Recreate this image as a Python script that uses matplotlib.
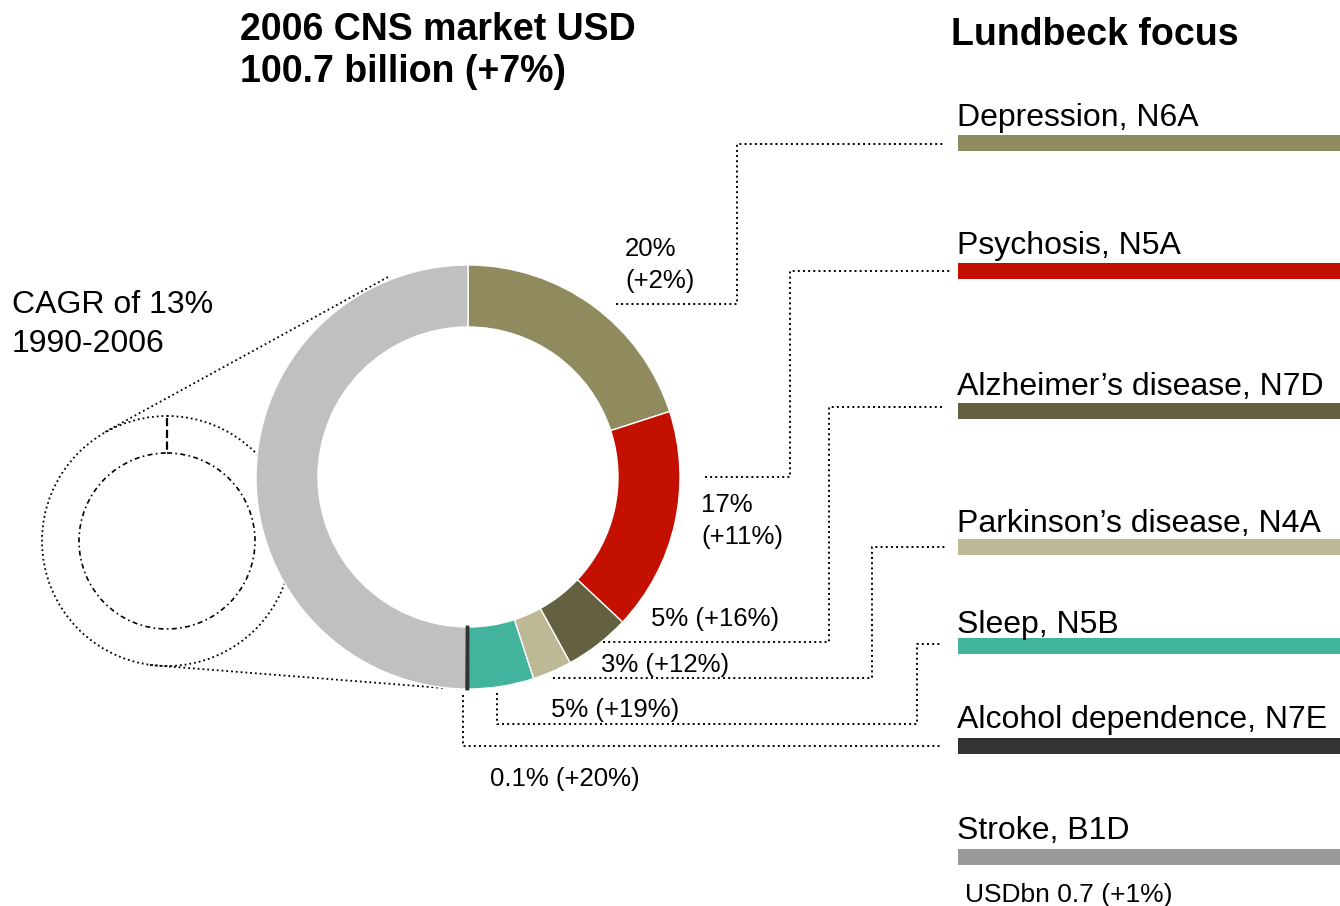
import matplotlib.pyplot as plt
from matplotlib.patches import Circle

plt.rcParams['font.family'] = ['Liberation Sans', 'DejaVu Sans']

# Lundbeck focus areas, share of 2006 CNS market and growth
areas = ["Depression, N6A", "Psychosis, N5A", "Alzheimer\u2019s disease, N7D",
         "Parkinson\u2019s disease, N4A", "Sleep, N5B", "Alcohol dependence, N7E"]
shares = [20, 17, 5, 3, 5, 0.1]
growth = [2, 11, 16, 12, 19, 20]
colors = ['#8f8b5f', '#c41000', '#646042', '#bdb996', '#42b39d', '#333333']
other_share = 100 - sum(shares)
other_color = '#c0c0c0'

market_usd = 100.7
market_growth = 7
cagr = 13
stroke_label = "Stroke, B1D"
stroke_usd = 0.7
stroke_growth = 1
stroke_color = '#999999'

fig = plt.figure(figsize=(13.4, 9.06), dpi=100)
ax = fig.add_axes([0, 0, 1, 1])

# donut (y axis is flipped below, so start at -90 and go counterclock)
cx, cy, r_out, ring = 468, 477, 212, 62
wedges, _ = ax.pie(shares + [other_share], colors=colors + [other_color],
                   startangle=-90, counterclock=True, center=(cx, cy), radius=r_out,
                   wedgeprops=dict(width=ring, edgecolor='white', linewidth=1))
# the 0.1% slice is too thin to see, draw it as a dark line on top
wedges[5].set_edgecolor(colors[5])
wedges[5].set_linewidth(2)
wedges[5].set_zorder(3)

ax.set_xlim(0, 1340)
ax.set_ylim(906, 0)
ax.set_aspect('equal')
ax.axis('off')

# small zoomed donut on the left
sx, sy = 167, 541
ax.add_patch(Circle((sx, sy), 125, fill=False, ls=':', lw=1.3, ec='black', zorder=0.5))
ax.add_patch(Circle((sx, sy), 88, fill=False, ls=(0, (3, 2, 1, 2)), lw=1.2, ec='black', zorder=3))
ax.plot([sx, sx], [418, 451], ls='--', lw=1.6, color='black')
ax.plot([388, 105], [277, 432], ls=':', lw=1.3, color='black', zorder=0.5)
ax.plot([150, 443], [665, 688], ls=':', lw=1.3, color='black', zorder=0.5)

# right-hand colour bars
bar_y = [143, 271, 411, 547, 646, 746]
ax.barh(bar_y, 382, left=958, height=16, color=colors)
ax.barh([857], 382, left=958, height=16, color=stroke_color)

label_base = [126, 254, 395, 532, 633, 728]
for name, yb in zip(areas, label_base):
    ax.text(957, yb, name, fontsize=23, va='baseline', ha='left')
ax.text(957, 839, stroke_label, fontsize=23, va='baseline', ha='left')
ax.text(965, 902, f"USDbn {stroke_usd} (+{stroke_growth}%)", fontsize=19,
        va='baseline', ha='left')

# leader lines from donut to bars
leaders = [
    [(616, 304), (737, 304), (737, 144), (943, 144)],
    [(705, 477), (790, 477), (790, 271), (952, 271)],
    [(603, 642), (829, 642), (829, 407), (945, 407)],
    [(553, 678), (872, 678), (872, 547), (945, 547)],
    [(497, 693), (497, 724), (917, 724), (917, 644), (942, 644)],
    [(463, 695), (463, 746), (942, 746)],
]
for pts in leaders:
    xs, ys = zip(*pts)
    ax.plot(xs, ys, ls=':', lw=1.4, color='black')

# share labels
share_txt = [f"{s:g}%" for s in shares]
grow_txt = [f"(+{g}%)" for g in growth]
ax.text(625, 256, share_txt[0], fontsize=18.5, va='baseline')
ax.text(625, 288, grow_txt[0], fontsize=18.5, va='baseline')
ax.text(701, 512, share_txt[1], fontsize=18.5, va='baseline')
ax.text(701, 544, grow_txt[1], fontsize=18.5, va='baseline')
single_pos = [(651, 626), (601, 672), (551, 717), (490, 786)]
for i, (x, yb) in zip(range(2, 6), single_pos):
    ax.text(x, yb, f"{share_txt[i]} {grow_txt[i]}", fontsize=18.5, va='baseline')

# titles
ax.text(240, 40, "2006 CNS market USD", fontsize=27, fontweight='bold', va='baseline')
ax.text(240, 82, f"{market_usd} billion (+{market_growth}%)", fontsize=27,
        fontweight='bold', va='baseline')
ax.text(951, 45, "Lundbeck focus", fontsize=27, fontweight='bold', va='baseline')
ax.text(12, 313, f"CAGR of {cagr}%", fontsize=23, va='baseline')
ax.text(12, 352, "1990-2006", fontsize=23, va='baseline')

fig.savefig('out.png', dpi=100)
